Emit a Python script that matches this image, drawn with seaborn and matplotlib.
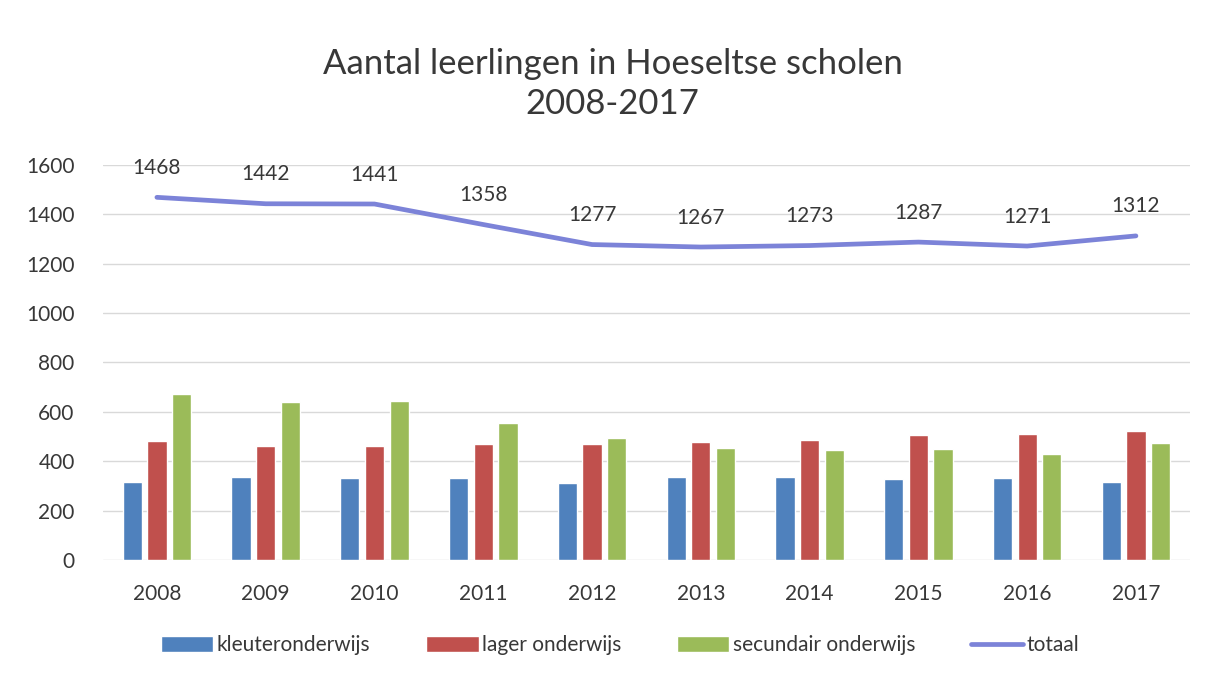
import numpy as np
import pandas as pd
import seaborn as sns
import matplotlib.pyplot as plt

jaren = ["2008", "2009", "2010", "2011", "2012", "2013", "2014", "2015", "2016", "2017"]
kleuter = [315, 338, 333, 332, 312, 336, 338, 330, 331, 317]
lager = [482, 462, 464, 469, 470, 478, 488, 505, 509, 521]
secundair = [671, 642, 644, 557, 495, 453, 447, 452, 431, 474]
totaal = [1468, 1442, 1441, 1358, 1277, 1267, 1273, 1287, 1271, 1312]
reeksen = ["kleuteronderwijs", "lager onderwijs", "secundair onderwijs"]

sns.set_style("white")
plt.rcParams["font.family"] = ["Lato", "DejaVu Sans"]
tekst = "#383838"

df = pd.DataFrame({"jaar": jaren, reeksen[0]: kleuter, reeksen[1]: lager, reeksen[2]: secundair})
lang = df.melt(id_vars="jaar", var_name="type", value_name="aantal")

fig = plt.figure(figsize=(12.06, 6.75), dpi=100)
ax = fig.add_axes([0.085, 0.170, 0.902, 0.586])

sns.barplot(data=lang, x="jaar", y="aantal", hue="type",
            palette=["#4F81BD", "#C0504D", "#9BBB59"],
            width=0.68, gap=0.22, ax=ax, saturation=1)
sns.lineplot(x=np.arange(len(jaren)), y=totaal, color="#7C83D8", lw=3.4,
             label="totaal", ax=ax)

for i, v in enumerate(totaal):
    ax.annotate(str(v), (i, v), xytext=(0, 14), textcoords="offset points",
                ha="center", va="bottom", fontsize=15, color=tekst)

ax.set_ylim(0, 1600)
ax.set_xlim(-0.5, len(jaren) - 0.5)
ax.set_yticks(range(0, 1601, 200))
ax.yaxis.grid(True, color="#D9D9D9", lw=1)
ax.set_axisbelow(True)
sns.despine(ax=ax, left=True, bottom=True)
ax.set_xlabel("")
ax.set_ylabel("")
ax.tick_params(axis="both", length=0, labelsize=15, colors=tekst)
ax.tick_params(axis="x", pad=17)
ax.tick_params(axis="y", pad=20)

handles, labels = ax.get_legend_handles_labels()
ax.legend(handles, labels, loc="center", bbox_to_anchor=(0.476, -0.215), ncol=4,
          frameon=False, fontsize=15, handlelength=2.5, handleheight=0.8,
          handletextpad=0.15, columnspacing=2.7, labelcolor=tekst)

fig.text(0.508, 0.875, "Aantal leerlingen in Hoeseltse scholen\n2008-2017",
         ha="center", va="center", fontsize=25, color=tekst, linespacing=1.3)

fig.savefig("out.png", dpi=100)
